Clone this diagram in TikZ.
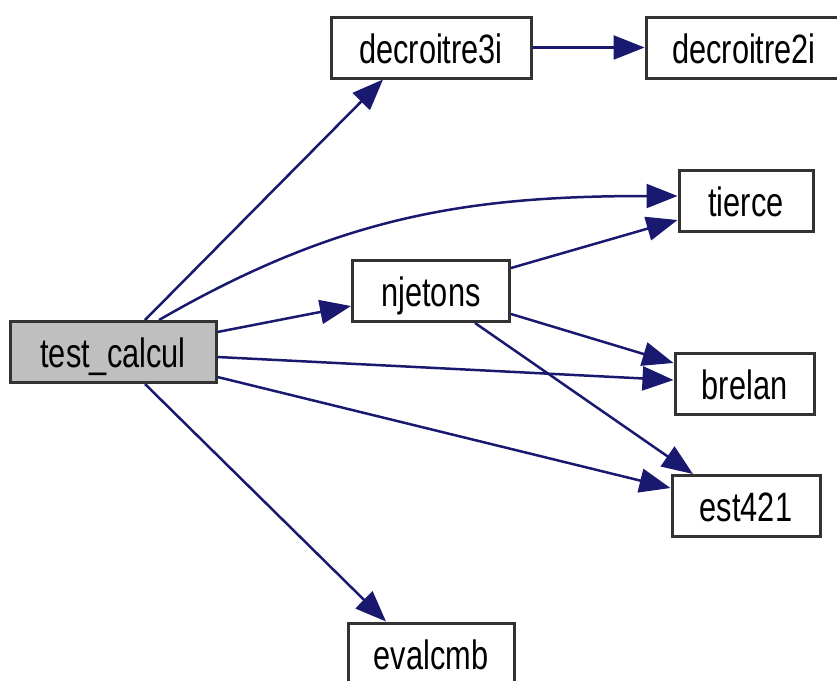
\documentclass[tikz,border=0pt]{standalone}
\usepackage{fontspec}
\newfontfamily\graphfont[FakeStretch=0.75]{Liberation Sans}
\usetikzlibrary{arrows.meta}
\definecolor{callblue}{RGB}{25,25,112}
\definecolor{rootgray}{RGB}{191,191,191}

\begin{document}
\begin{tikzpicture}
  [x=1pt,y=-1pt,
   every node/.style={rectangle,draw=black!80,line width=3pt,fill=white,
     minimum height=61pt,inner sep=0pt,text height=31pt,text depth=0pt,
     font=\graphfont\fontsize{41}{41}\selectfont},
   root/.style={fill=rootgray},
   call/.style={draw=callblue,line width=2.5pt,-{Triangle[length=31pt,width=24pt]}}]

  \useasboundingbox (0,0) rectangle (837,680);
  \clip (0,0) rectangle (837,680);

  \node[root,minimum width=206pt] (tc) at (113,352) {test\_calcul};
  \node[minimum width=200pt] (d3) at (431,47.5) {decroitre3i};
  \node[minimum width=196pt] (d2) at (744,47.5) {decroitre2i};
  \node[minimum width=134pt] (ti) at (746,201) {tierce};
  \node[minimum width=157pt] (nj) at (431,291) {njetons};
  \node[minimum width=139pt] (br) at (744.5,384) {brelan};
  \node[minimum width=148pt] (es) at (746,506) {est421};
  \node[minimum width=166pt] (ev) at (431,653.5) {evalcmb};

  \draw[call] ([xshift=32pt]tc.north) -- ([xshift=-48pt]d3.south);
  \draw[call] ([xshift=46pt]tc.north) to[out=30,in=180] ([yshift=5pt]ti.west);
  \draw[call] ([yshift=20pt]tc.east) -- ([yshift=-15pt]nj.west);
  \draw[call] ([yshift=-5pt]tc.east) -- ([yshift=4pt]br.west);
  \draw[call] ([yshift=-25pt]tc.east) -- ([yshift=18pt]es.west);
  \draw[call] ([xshift=32pt]tc.south) -- ([xshift=-45pt]ev.north);
  \draw[call] ([yshift=23pt]nj.east) -- ([yshift=-19pt]ti.west);
  \draw[call] ([yshift=-23pt]nj.east) -- ([yshift=21pt]br.west);
  \draw[call] ([xshift=44pt]nj.south) -- ([xshift=-53pt]es.north);
  \draw[call] (d3) -- (d2);
\end{tikzpicture}
\end{document}
